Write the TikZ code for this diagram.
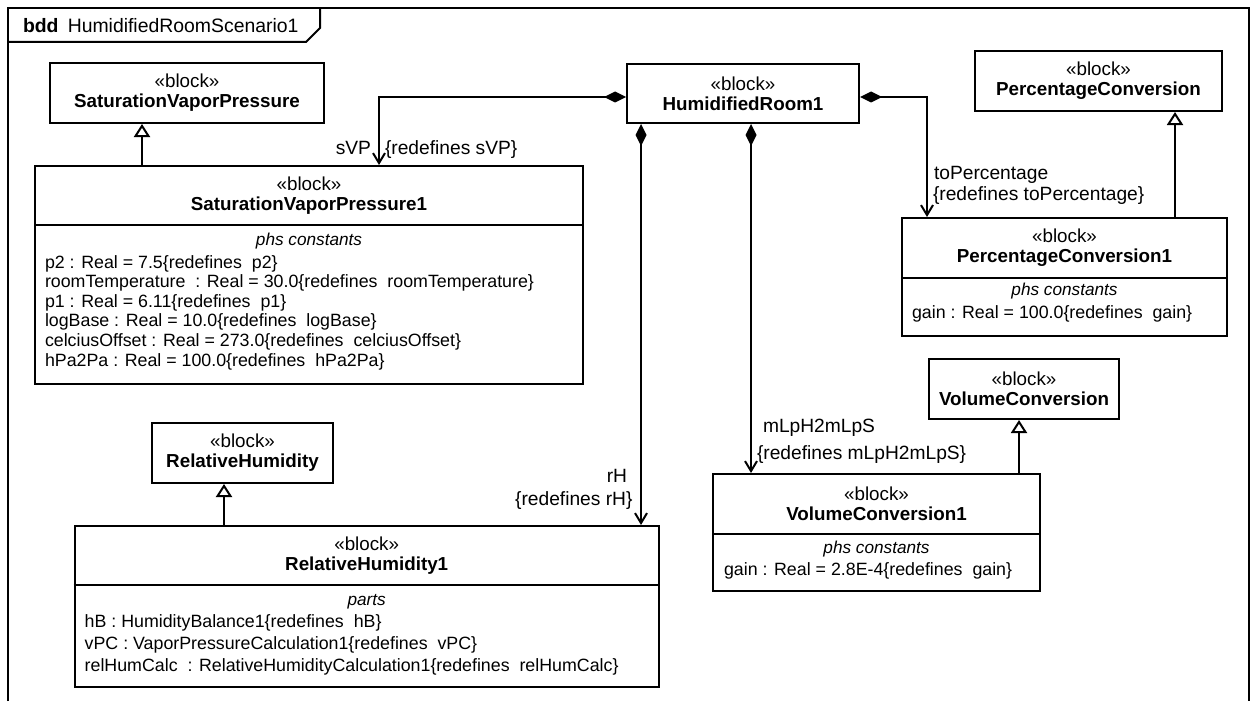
\documentclass[tikz,border=0pt]{standalone}
\usepackage{fontspec}
\setmainfont{Liberation Sans}
\usetikzlibrary{arrows.meta, positioning, calc}

\newcommand{\rdf}[1]{\{redefines\ \ #1\}}
\newcommand{\blk}[1]{«block»\\\textbf{#1}}

\tikzset{
    % --- Block outline (simple blocks carry their head text) ---
    block/.style = {
        rectangle, draw, line width=1pt, inner sep=0pt, fill=white,
        align=center, font=\fontsize{9.4}{10}\selectfont
    },
    % --- Stereotype and name of a block with compartments ---
    head/.style = {
        align=center, inner sep=0pt, font=\fontsize{9.4}{10}\selectfont
    },
    % --- Compartment title ---
    ctitle/.style = {
        anchor=base, inner sep=0pt, font=\fontsize{8.6}{10}\itshape
    },
    % --- Compartment entries (placed at the baseline of the last line) ---
    entries/.style = {
        align=left, anchor=base west, inner sep=0pt,
        font=\fontsize{8.9}{#1}\selectfont
    },
    entries/.default = 10,
    % --- Role name on an association end ---
    role/.style = {
        inner sep=0pt, font=\fontsize{9.6}{10}\selectfont
    },
    % --- Frame name ---
    framelabel/.style = {
        anchor=base west, inner sep=0pt, font=\fontsize{9.7}{10}\selectfont
    },
    % --- Part association, filled diamond at the owner ---
    compose/.style = {
        line width=1pt,
        {Diamond[length=11pt,width=5.5pt]}-{Straight Barb[length=5pt,width=6pt]}
    },
    % --- Generalization ---
    generalize/.style = {
        line width=1pt,
        -{Triangle[open,length=6.5pt,width=8pt,fill=white]}
    }
}

\begin{document}
\begin{tikzpicture}[x=0.5pt, y=-0.5pt, line width=1pt]
\useasboundingbox (0,0) rectangle (1251,701);

% ---------------------------------------------------------
% Diagram frame
% ---------------------------------------------------------
\draw (8,701) -- (8,8) -- (1249,8) -- (1249,701);
\draw (8,42) -- (306,42) -- (320,28) -- (320,8);
\node[framelabel] (title) at (22,33) {\textbf{bdd}\hspace{4.6pt}HumidifiedRoomScenario1};

% ---------------------------------------------------------
% Owner block
% ---------------------------------------------------------
\node[block, minimum width=116pt, minimum height=29.5pt] (hr1) at (743,93.5)
    {\blk{HumidifiedRoom1}};

% ---------------------------------------------------------
% Saturation vapor pressure
% ---------------------------------------------------------
\node[block, minimum width=137pt, minimum height=30pt] (svp) at (187,93)
    {\blk{SaturationVaporPressure}};

\node[block, minimum width=274pt, minimum height=109pt] (svp1) at (309,275) {};
\node[head] (svp1h) at ($(svp1.north)+(0,31)$) {\blk{SaturationVaporPressure1}};
\draw ($(svp1.north west)+(0,60)$) -- ($(svp1.north east)+(0,60)$);
\node[ctitle] (svp1t) at ($(svp1.north)+(0,80)$) {phs constants};
\node[entries=9.8] (svp1e) at ($(svp1.north west)+(10,201)$) {%
    p2 : Real = 7.5\rdf{p2}\\
    roomTemperature\ \ : Real = 30.0\rdf{roomTemperature}\\
    p1 : Real = 6.11\rdf{p1}\\
    logBase : Real = 10.0\rdf{logBase}\\
    celciusOffset : Real = 273.0\rdf{celciusOffset}\\
    hPa2Pa : Real = 100.0\rdf{hPa2Pa}};

% ---------------------------------------------------------
% Percentage conversion
% ---------------------------------------------------------
\node[block, minimum width=123.5pt, minimum height=30pt] (pc) at (1098.5,81)
    {\blk{PercentageConversion}};

\node[block, minimum width=162.5pt, minimum height=59pt] (pc1) at (1064.5,277) {};
\node[head] (pc1h) at ($(pc1.north)+(0,31)$) {\blk{PercentageConversion1}};
\draw ($(pc1.north west)+(0,61)$) -- ($(pc1.north east)+(0,61)$);
\node[ctitle] (pc1t) at ($(pc1.north)+(0,78)$) {phs constants};
\node[entries] (pc1e) at ($(pc1.north west)+(10,101)$) {gain : Real = 100.0\rdf{gain}};

% ---------------------------------------------------------
% Volume conversion
% ---------------------------------------------------------
\node[block, minimum width=95pt, minimum height=30pt] (vc) at (1024,389)
    {\blk{VolumeConversion}};

\node[block, minimum width=163.5pt, minimum height=58.5pt] (vc1) at (876.5,532.5) {};
\node[head] (vc1h) at ($(vc1.north)+(0,31)$) {\blk{VolumeConversion1}};
\draw ($(vc1.north west)+(0,61)$) -- ($(vc1.north east)+(0,61)$);
\node[ctitle] (vc1t) at ($(vc1.north)+(0,80)$) {phs constants};
\node[entries] (vc1e) at ($(vc1.north west)+(11,102)$) {gain : Real = 2.8E-4\rdf{gain}};

% ---------------------------------------------------------
% Relative humidity
% ---------------------------------------------------------
\node[block, minimum width=90.5pt, minimum height=30pt] (rh) at (242.5,453)
    {\blk{RelativeHumidity}};

\node[block, minimum width=292pt, minimum height=80.5pt] (rh1) at (366.7,606.5) {};
\node[head] (rh1h) at ($(rh1.north)+(0,31)$) {\blk{RelativeHumidity1}};
\draw ($(rh1.north west)+(0,60)$) -- ($(rh1.north east)+(0,60)$);
\node[ctitle] (rh1t) at ($(rh1.north)+(0,80)$) {parts};
\node[entries=11] (rh1e) at ($(rh1.north west)+(10,146)$) {%
    hB : HumidityBalance1\rdf{hB}\\
    vPC : VaporPressureCalculation1\rdf{vPC}\\
    relHumCalc\ \ : RelativeHumidityCalculation1\rdf{relHumCalc}};

% ---------------------------------------------------------
% Generalizations
% ---------------------------------------------------------
\coordinate (gSvp) at (142,0);
\coordinate (gPc)  at (1175,0);
\coordinate (gVc)  at (1019,0);
\coordinate (gRh)  at (224,0);
\draw[generalize] (svp1.north -| gSvp) -- (svp.south -| gSvp);
\draw[generalize] (pc1.north -| gPc) -- (pc.south -| gPc);
\draw[generalize] (vc1.north -| gVc) -- (vc.south -| gVc);
\draw[generalize] (rh1.north -| gRh) -- (rh.south -| gRh);

% ---------------------------------------------------------
% Part associations
% ---------------------------------------------------------
\coordinate (xSvp) at (379,0);
\coordinate (xPc)  at (927,0);
\coordinate (xRh)  at (641,0);
\coordinate (xVc)  at (751,0);
\draw[compose] ($(hr1.west)+(0,3.5)$) -| (svp1.north -| xSvp);
\draw[compose] ($(hr1.east)+(0,3.5)$) -| (pc1.north -| xPc);
\draw[compose] (hr1.south -| xRh) -- (rh1.north -| xRh);
\draw[compose] (hr1.south -| xVc) -- (vc1.north -| xVc);

% role names
\node[role, anchor=base east] (svpRole) at (372,155) {sVP};
\node[role, anchor=base west] (svpRdf)  at (384,155) {\{redefines sVP\}};
\node[role, anchor=base west] (pcRole)  at (933,179) {toPercentage};
\node[role, anchor=base west] (pcRdf)   at (932,200.5) {\{redefines toPercentage\}};
\node[role, anchor=base west] (vcRole)  at (762,432) {mLpH2mLpS};
\node[role, anchor=base west] (vcRdf)   at (756,459) {\{redefines mLpH2mLpS\}};
\node[role, anchor=base east] (rhRole)  at (628,482) {rH};
\node[role, anchor=base east] (rhRdf)   at (633.5,505) {\{redefines rH\}};

\end{tikzpicture}
\end{document}
